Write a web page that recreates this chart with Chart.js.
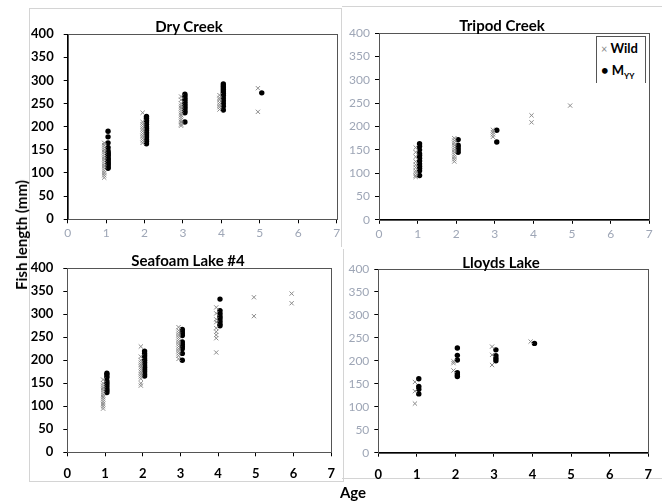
<!DOCTYPE html>
<html>
<head>
<meta charset="utf-8">
<script src="https://cdn.jsdelivr.net/npm/chart.js@4.4.1/dist/chart.umd.min.js"></script>
<style>
  body { margin: 0; background: #fff; font-family: Lato, sans-serif; }
  #page { position: relative; width: 662px; height: 501px; overflow: hidden; }
  .panel { position: absolute; }
  .frame { position: absolute; border: 1px solid #d4d4d4; }
  .titulo { position: absolute; transform: translate(-50%, -50%); font-weight: bold; font-size: 15px; white-space: nowrap; }
  .eje { position: absolute; font-weight: bold; font-size: 15px; white-space: nowrap; }
  #leyenda { position: absolute; left: 596px; top: 36px; width: 48px; height: 46px; border: 1px solid #555; border-bottom: none; background: #fff; font-weight: bold; font-size: 13px; }
  #leyenda div { position: absolute; left: 4px; }
  #leyenda sub { font-size: 8px; }
</style>
</head>
<body>
<div id="page">
  <div class="frame" style="left:29px;top:8px;width:311px;height:238px;border-bottom:none"></div>
  <div class="frame" style="left:342px;top:6px;width:330px;height:240px;border-left:none;border-bottom:none"></div>
  <div class="frame" style="left:29px;top:249px;width:313px;height:232px;border-top:none"></div>
  <div class="frame" style="left:342px;top:249px;width:330px;height:229px;border-top:none;border-left:none"></div>

  <div class="panel" style="left:0;top:0;width:350px;height:245px"><canvas id="graficaDry"></canvas></div>
  <div class="panel" style="left:335px;top:0;width:327px;height:245px"><canvas id="graficaTripod"></canvas></div>
  <div class="panel" style="left:0;top:250px;width:345px;height:235px"><canvas id="graficaSeafoam"></canvas></div>
  <div class="panel" style="left:335px;top:250px;width:327px;height:235px"><canvas id="graficaLloyds"></canvas></div>

  <div class="titulo" style="left:189px;top:26px">Dry Creek</div>
  <div class="titulo" style="left:502px;top:25px">Tripod Creek</div>
  <div class="titulo" style="left:188px;top:260px">Seafoam Lake #4</div>
  <div class="titulo" style="left:501px;top:262px">Lloyds Lake</div>

  <div class="eje" style="left:21px;top:235px;transform:translate(-50%,-50%) rotate(-90deg)">Fish length (mm)</div>
  <div class="eje" style="left:353px;top:492px;transform:translate(-50%,-50%)">Age</div>

  <div id="leyenda">
    <div style="top:3px"><span style="color:#888;font-weight:normal;font-size:11px">×</span> Wild</div>
    <div style="top:25px"><span>•</span> M<sub>YY</sub></div>
  </div>
</div>

<script>
// Longitudes (mm) por edad: [edad, [longitudes...]]
const dryWild = [
    [1, [90, 95, 100, 105, 110, 115, 120, 125, 130, 135, 140, 145, 150, 155, 160, 165]],
    [2, [165, 170, 175, 180, 185, 190, 195, 200, 205, 210, 230]],
    [3, [202, 205, 210, 215, 220, 225, 230, 235, 240, 245, 250, 258, 265]],
    [4, [237, 242, 247, 252, 258, 262, 268]],
    [5, [232, 283]]
];
const dryMyy = [
    [1, [110, 112, 115, 118, 120, 122, 125, 128, 130, 132, 135, 138, 140, 142, 145, 148, 155, 165, 178, 190]],
    [2, [163, 168, 172, 176, 180, 184, 188, 192, 196, 200, 205, 210, 214, 218, 222]],
    [3, [210, 230, 234, 238, 242, 246, 250, 254, 258, 262, 266, 270]],
    [4, [236, 244, 250, 256, 262, 268, 272, 276, 280, 284, 288, 292]],
    [5, [273]]
];
const tripodWild = [
    [1, [92, 95, 100, 105, 112, 118, 125, 135, 145, 155]],
    [2, [125, 130, 135, 140, 145, 150, 155, 160, 165, 170, 175]],
    [3, [178, 183, 188, 193]],
    [4, [209, 224]],
    [5, [245]]
];
const tripodMyy = [
    [1, [95, 105, 110, 115, 120, 126, 132, 138, 142, 150, 158, 163]],
    [2, [145, 150, 155, 160, 172]],
    [3, [167, 192]]
];
const seafoamWild = [
    [1, [95, 100, 105, 110, 115, 120, 125, 130, 135, 140, 145, 150, 158]],
    [2, [145, 150, 160, 165, 170, 175, 180, 185, 190, 195, 200, 208, 230]],
    [3, [203, 210, 215, 220, 225, 230, 235, 240, 245, 250, 255, 260, 265, 272]],
    [4, [217, 248, 255, 262, 270, 283, 289, 302, 315]],
    [5, [296, 337]],
    [6, [324, 345]]
];
const seafoamMyy = [
    [1, [130, 135, 140, 145, 150, 155, 163, 168, 172]],
    [2, [166, 170, 175, 180, 185, 190, 195, 200, 205, 210, 215, 220]],
    [3, [200, 215, 225, 230, 235, 240, 254, 258, 262, 267]],
    [4, [275, 279, 285, 291, 296, 302, 308, 333]]
];
const lloydsWild = [
    [1, [107, 134, 154]],
    [2, [179, 195, 199]],
    [3, [191, 213, 231]],
    [4, [242]]
];
const lloydsMyy = [
    [1, [128, 138, 144, 161]],
    [2, [166, 170, 174, 202, 212, 228]],
    [3, [200, 205, 211, 224]],
    [4, [238]]
];

const edadTicks = [0, 1, 2, 3, 4, 5, 6, 7];
const largoTicks = [0, 50, 100, 150, 200, 250, 300, 350, 400];

// desplazamiento horizontal de cada grupo respecto a la edad
const corrimientoWild = -0.05;
const corrimientoMyy = 0.05;

Chart.defaults.font.family = 'Lato';

function puntos(grupos, corr) {
    const pts = [];
    grupos.forEach(([edad, largos]) => {
        largos.forEach(l => pts.push({ x: edad + corr, y: l }));
    });
    return pts;
}

const marco = {
    id: 'marco',
    afterDraw(chart) {
        const a = chart.chartArea, ctx = chart.ctx;
        ctx.save();
        ctx.strokeStyle = '#555';
        ctx.lineWidth = 1;
        ctx.strokeRect(Math.round(a.left) + 0.5, Math.round(a.top) + 0.5, Math.round(a.right - a.left), Math.round(a.bottom - a.top));
        ctx.restore();
    }
};

function crearGrafica(id, wild, myy, cfg) {
    const tickFont = cfg.negrita
        ? { size: 13, weight: 'bold' }
        : { size: 12, weight: 'normal' };
    const tickColor = cfg.negrita ? '#000' : '#9ea6b6';

    new Chart(document.getElementById(id), {
        type: 'scatter',
        data: {
            datasets: [{
                label: 'Wild',
                data: puntos(wild, corrimientoWild),
                pointStyle: 'crossRot',
                pointRadius: 3,
                borderColor: '#8a8a8a',
                borderWidth: 1
            }, {
                label: 'Myy',
                data: puntos(myy, corrimientoMyy),
                pointStyle: 'circle',
                pointRadius: 2.7,
                backgroundColor: '#000',
                borderColor: '#000',
                borderWidth: 0
            }]
        },
        options: {
            responsive: true,
            maintainAspectRatio: false,
            animation: false,
            layout: { padding: { top: cfg.top, right: cfg.right, left: 0, bottom: 0 } },
            plugins: {
                legend: { display: false },
                tooltip: { enabled: false }
            },
            scales: {
                x: {
                    type: 'linear',
                    min: 0,
                    max: 7,
                    afterBuildTicks: s => { s.ticks = edadTicks.map(v => ({ value: v })); },
                    afterFit: s => { s.height = cfg.xh; },
                    border: { color: '#000' },
                    grid: { drawOnChartArea: false, tickLength: 4, color: '#000' },
                    ticks: { padding: cfg.negrita ? 10 : 3, font: tickFont, color: tickColor, maxRotation: 0 }
                },
                y: {
                    min: 0,
                    max: 400,
                    afterBuildTicks: s => { s.ticks = largoTicks.map(v => ({ value: v })); },
                    afterFit: s => { s.width = cfg.yw; },
                    border: { color: '#000' },
                    grid: { drawOnChartArea: false, tickLength: 4, color: '#000' },
                    ticks: { padding: cfg.yPad, font: cfg.yNegrita ? { size: 13, weight: 'bold' } : { size: 12 }, color: cfg.yNegrita ? '#000' : '#9ea6b6' }
                }
            }
        },
        plugins: [marco]
    });
}

document.addEventListener('DOMContentLoaded', function () {
    crearGrafica('graficaDry', dryWild, dryMyy, { top: 34, right: 13.3, xh: 25.7, yw: 67.7, negrita: false, yNegrita: true, yPad: 10 });
    crearGrafica('graficaTripod', tripodWild, tripodMyy, { top: 33.3, right: 12.7, xh: 25.2, yw: 44, negrita: false, yNegrita: false, yPad: 5 });
    crearGrafica('graficaSeafoam', seafoamWild, seafoamMyy, { top: 18.3, right: 9.5, xh: 32.7, yw: 67.3, negrita: true, yNegrita: true, yPad: 10 });
    crearGrafica('graficaLloyds', lloydsWild, lloydsMyy, { top: 19, right: 13.7, xh: 32.3, yw: 43.3, negrita: true, yNegrita: false, yPad: 5 });
});
</script>
</body>
</html>
